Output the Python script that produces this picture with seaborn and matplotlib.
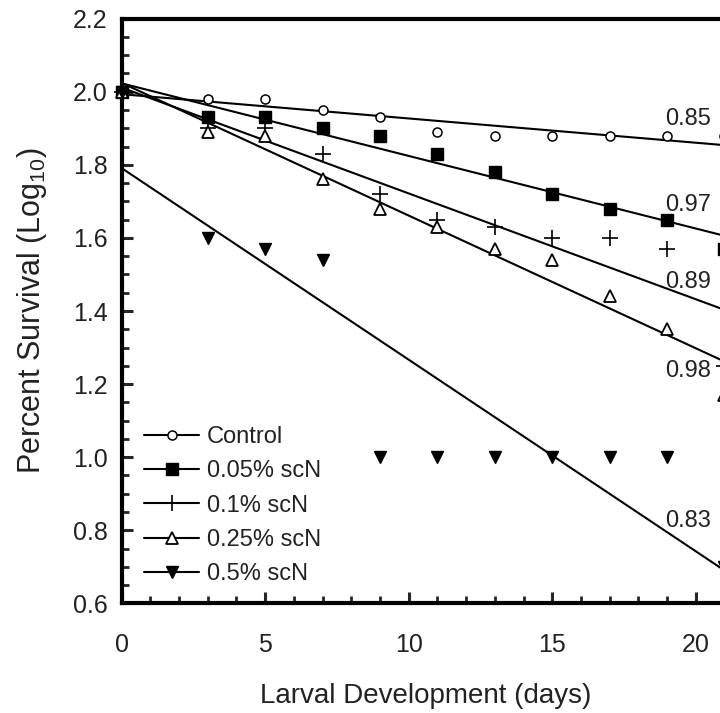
import numpy as np
import pandas as pd
import matplotlib
matplotlib.use("Agg")
import matplotlib.pyplot as plt
import seaborn as sns
from matplotlib.lines import Line2D
from matplotlib.ticker import MultipleLocator, FormatStrFormatter

# ---- data ----
days = [0, 3, 5, 7, 9, 11, 13, 15, 17, 19, 21]
control = [2.00, 1.98, 1.98, 1.95, 1.93, 1.89, 1.88, 1.88, 1.88, 1.88, 1.88]
scn_005 = [2.00, 1.93, 1.93, 1.90, 1.88, 1.83, 1.78, 1.72, 1.68, 1.65, 1.57]
scn_01 = [2.00, 1.90, 1.90, 1.83, 1.72, 1.65, 1.63, 1.60, 1.60, 1.57, 1.25]
scn_025 = [2.00, 1.89, 1.88, 1.76, 1.68, 1.63, 1.57, 1.54, 1.44, 1.35, 1.17]
scn_05 = [2.00, 1.60, 1.57, 1.54, 1.00, 1.00, 1.00, 1.00, 1.00, 1.00, 0.70]
series_names = ["Control", "0.05% scN", "0.1% scN", "0.25% scN", "0.5% scN"]
r2_labels = ["0.85", "0.97", "0.89", "0.98", "0.83"]

series = [control, scn_005, scn_01, scn_025, scn_05]

# ---- styles ----
styles = [
    dict(marker="o", ms=6.5, mfc="white", mec="black", mew=1.1),
    dict(marker="s", ms=8, mfc="black", mec="black", mew=1.0),
    dict(marker="+", ms=11, mfc="black", mec="black", mew=1.2),
    dict(marker="^", ms=8.5, mfc="white", mec="black", mew=1.3),
    dict(marker="v", ms=9, mfc="black", mec="black", mew=1.0),
]
label_pos_y = [1.925, 1.69, 1.48, 1.235, 0.825]
label_pos_x = 18.95

sns.set_style("ticks")
plt.rcParams["font.family"] = ["Liberation Sans", "DejaVu Sans"]
plt.rcParams["mathtext.fontset"] = "custom"
plt.rcParams["mathtext.rm"] = "Liberation Sans"
plt.rcParams["mathtext.default"] = "regular"

fig = plt.figure(figsize=(7.2, 7.13), dpi=100)
ax = fig.add_axes([0.169, 0.1538, 0.877, 0.820])
ax.set_xlim(0, 22)
ax.set_ylim(0.6, 2.2)

for name, vals, st in zip(series_names, series, styles):
    df = pd.DataFrame({"day": days, "surv": vals})
    sns.regplot(data=df, x="day", y="surv", ax=ax, ci=None, scatter=False,
                truncate=False, line_kws=dict(color="black", lw=1.5))
    ax.plot(df["day"], df["surv"], linestyle="none", clip_on=False, zorder=4, **st)

ax.set_xlim(0, 22)
ax.set_ylim(0.6, 2.2)

for lab, yv in zip(r2_labels, label_pos_y):
    ax.text(label_pos_x, yv, lab, ha="left", va="center", fontsize=17, color="#222222")

# ticks
ax.xaxis.set_major_locator(MultipleLocator(5))
ax.xaxis.set_minor_locator(MultipleLocator(1))
ax.yaxis.set_major_locator(MultipleLocator(0.2))
ax.yaxis.set_minor_locator(MultipleLocator(0.05))
ax.yaxis.set_major_formatter(FormatStrFormatter("%.1f"))
ax.tick_params(axis="both", which="major", direction="in", length=8, width=2.2,
               labelsize=18, labelcolor="#222222")
ax.tick_params(axis="both", which="minor", direction="in", length=5, width=2.0)
ax.tick_params(axis="x", which="major", pad=21)
ax.tick_params(axis="y", which="major", pad=10)
for side in ["left", "bottom", "top", "right"]:
    ax.spines[side].set_linewidth(3)
    ax.spines[side].set_color("black")

ax.set_xlabel("Larval Development (days)", fontsize=20, color="#222222")
ax.xaxis.set_label_coords(426 / 720, 1 - 696 / 713, transform=fig.transFigure)
ax.xaxis.label.set_va("center")
ax.set_ylabel("Percent Survival (Log$_{10}$)", fontsize=22, color="#222222")
ax.yaxis.set_label_coords(32 / 720, 0.5 * ((1 - 18.6 / 713) + (1 - 603.3 / 713)),
                          transform=fig.transFigure)
ax.yaxis.label.set_va("center")

handles = [Line2D([], [], color="black", lw=1.5, **st) for st in styles]
ax.legend(handles, series_names, loc="upper left", frameon=False,
          bbox_to_anchor=(144 / 720, 1 - 426 / 713), bbox_transform=fig.transFigure,
          borderpad=0, borderaxespad=0, fontsize=17, handlelength=2.35,
          handletextpad=0.3, labelspacing=0.52, labelcolor="#222222")

fig.savefig("out.png", dpi=100)
